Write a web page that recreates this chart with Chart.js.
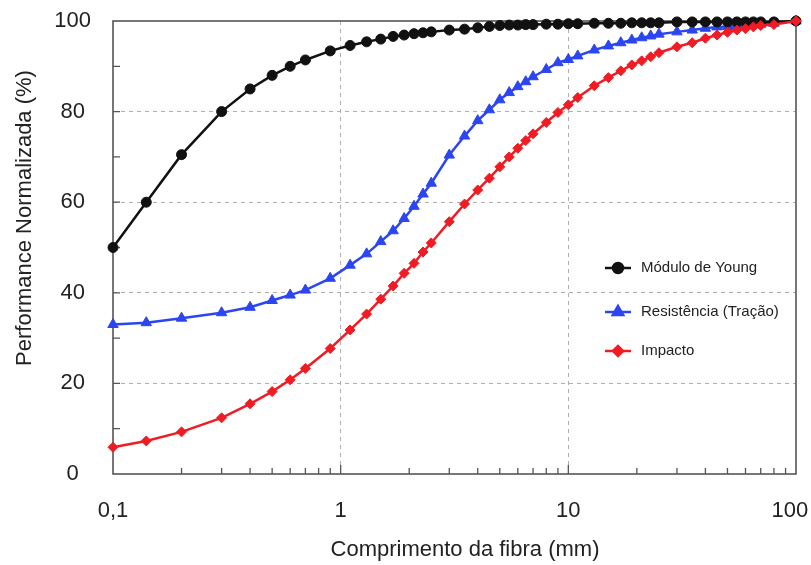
<!DOCTYPE html>
<html>
<head>
<meta charset="utf-8">
<script src="https://cdn.jsdelivr.net/npm/chart.js@4.4.0/dist/chart.umd.min.js"></script>
<style>
    body { margin: 0; background: #fff; }
    #wrap { width: 811px; height: 565px; }
</style>
</head>
<body>
<div id="wrap"><canvas id="fibraChart" width="811" height="565"></canvas></div>
<script>
// --------------------
// Data
// --------------------
const comprimento = [0.1, 0.14, 0.2, 0.3, 0.4, 0.5, 0.6, 0.7, 0.9,
    1.1, 1.3, 1.5, 1.7, 1.9, 2.1, 2.3, 2.5,
    3, 3.5, 4, 4.5, 5, 5.5, 6, 6.5, 7, 8, 9, 10,
    11, 13, 15, 17, 19, 21, 23, 25,
    30, 35, 40, 45, 50, 55, 60, 65, 70, 80, 100];

const moduloYoung = [50, 60, 70.5, 80, 85, 88, 90, 91.4, 93.4,
    94.6, 95.4, 96.0, 96.6, 96.9, 97.2, 97.4, 97.6,
    98.0, 98.2, 98.5, 98.8, 99.0, 99.1, 99.1, 99.2, 99.2, 99.3, 99.3, 99.4,
    99.4, 99.5, 99.5, 99.5, 99.6, 99.6, 99.6, 99.6,
    99.8, 99.8, 99.8, 99.8, 99.8, 99.8, 99.8, 99.8, 99.8, 99.8, 100];

const resistencia = [33, 33.4, 34.4, 35.6, 36.8, 38.3, 39.5, 40.6, 43.2,
    46.1, 48.6, 51.3, 53.7, 56.4, 59.1, 61.8, 64.2,
    70.4, 74.6, 78, 80.4, 82.6, 84.2, 85.5, 86.6, 87.7, 89.3, 90.8, 91.5,
    92.3, 93.6, 94.5, 95.2, 95.8, 96.3, 96.7, 97.1,
    97.6, 98.0, 98.4, 98.7, 98.8, 99.0, 99.2, 99.3, 99.3, 99.5, 100];

const impacto = [5.9, 7.3, 9.3, 12.4, 15.5, 18.2, 20.8, 23.3, 27.7,
    31.8, 35.3, 38.6, 41.5, 44.3, 46.5, 49, 51,
    55.7, 59.6, 62.7, 65.3, 67.8, 70, 71.9, 73.6, 75.1, 77.6, 79.8, 81.5,
    83.1, 85.7, 87.5, 89, 90.3, 91.2, 92.1, 93,
    94.3, 95.2, 96.2, 96.9, 97.5, 98, 98.3, 98.7, 99, 99.2, 100];

const xTicks = [0.1, 1, 10, 100];
const xTickLabels = ["0,1", "1", "10", "100  "];
const xMinorTicks = [0.2, 0.3, 0.4, 0.5, 0.6, 0.7, 0.8, 0.9,
    2, 3, 4, 5, 6, 7, 8, 9, 20, 30, 40, 50, 60, 70, 80, 90];
const yMinorTicks = [10, 30, 50, 70, 90];

const seriesNames = ["Módulo de Young", "Resistência (Tração)", "Impacto"];

const FONT = "'Liberation Sans', Arial, sans-serif";
const BLACK = "#111111";
const BLUE = "#2b46f0";
const RED = "#f01c24";

function toPoints(values) {
    return comprimento.map((c, i) => ({ x: c, y: values[i] }));
}

// --------------------
// Frame, inner ticks, titles and legend
// --------------------
const decorPlugin = {
    id: "decor",
    beforeDatasetsDraw(chart) {
        const { ctx, chartArea: a, scales } = chart;
        ctx.save();
        ctx.strokeStyle = "#555";
        ctx.lineWidth = 1.3;
        ctx.beginPath();
        xMinorTicks.forEach(v => {
            const px = scales.x.getPixelForValue(v);
            ctx.moveTo(px, a.bottom);
            ctx.lineTo(px, a.bottom - 6);
        });
        [1, 10].forEach(v => {
            const px = scales.x.getPixelForValue(v);
            ctx.moveTo(px, a.bottom);
            ctx.lineTo(px, a.bottom - 9);
        });
        yMinorTicks.concat([20, 40, 60, 80]).forEach(v => {
            const py = scales.y.getPixelForValue(v);
            ctx.moveTo(a.left, py);
            ctx.lineTo(a.left + 7, py);
        });
        ctx.stroke();
        ctx.lineWidth = 1.6;
        ctx.strokeRect(a.left, a.top, a.width, a.height);
        ctx.restore();
    },
    afterDraw(chart) {
        const { ctx } = chart;
        ctx.save();
        ctx.fillStyle = "#222";
        ctx.font = "22px " + FONT;
        ctx.textAlign = "center";
        ctx.textBaseline = "middle";
        ctx.fillText("Comprimento da fibra (mm)", 465, 550);

        ctx.translate(25, 218);
        ctx.rotate(-Math.PI / 2);
        ctx.fillText("Performance Normalizada (%)", 0, 0);
        ctx.restore();

        // legend
        const rows = [
            { y: 268, color: BLACK, style: "circle", r: 5 },
            { y: 312, color: BLUE, style: "triangle", r: 6 },
            { y: 351, color: RED, style: "rectRot", r: 5 }
        ];
        ctx.save();
        rows.forEach((row, i) => {
            ctx.strokeStyle = row.color;
            ctx.fillStyle = row.color;
            ctx.lineWidth = 2.5;
            ctx.beginPath();
            ctx.moveTo(605, row.y);
            ctx.lineTo(631, row.y);
            ctx.stroke();
            Chart.helpers.drawPoint(ctx, {
                pointStyle: row.style, radius: row.r, borderWidth: 1, rotation: 0
            }, 618, row.y);
            ctx.fillStyle = "#222";
            ctx.font = "15px " + FONT;
            ctx.textAlign = "left";
            ctx.textBaseline = "middle";
            ctx.fillText(seriesNames[i], 641, row.y);
        });
        ctx.restore();
    }
};

// --------------------
// Chart
// --------------------
const ctx = document.getElementById("fibraChart").getContext("2d");

new Chart(ctx, {
    type: "line",
    data: {
        datasets: [
            {
                label: seriesNames[0],
                data: toPoints(moduloYoung),
                borderColor: BLACK,
                backgroundColor: BLACK,
                pointStyle: "circle",
                pointRadius: 5,
                pointBorderWidth: 1,
                borderWidth: 2.5,
                order: 1,
                clip: false
            },
            {
                label: seriesNames[1],
                data: toPoints(resistencia),
                borderColor: BLUE,
                backgroundColor: BLUE,
                pointStyle: "triangle",
                pointRadius: 6,
                pointBorderWidth: 1,
                borderWidth: 2.5,
                order: 2,
                clip: false
            },
            {
                label: seriesNames[2],
                data: toPoints(impacto),
                borderColor: RED,
                backgroundColor: RED,
                pointStyle: "rectRot",
                pointRadius: 5,
                pointBorderWidth: 1,
                borderWidth: 2.5,
                order: 0,
                clip: false
            }
        ]
    },
    options: {
        responsive: false,
        animation: false,
        layout: { padding: { top: 21, right: 15, left: 0, bottom: 0 } },
        plugins: {
            legend: { display: false },
            tooltip: { enabled: false }
        },
        scales: {
            x: {
                type: "logarithmic",
                min: 0.1,
                max: 100,
                afterBuildTicks: scale => {
                    scale.ticks = xTicks.map(v => ({ value: v }));
                },
                afterFit: scale => {
                    scale.height = 91;
                    scale.paddingRight = 15;
                    scale.paddingLeft = 0;
                },
                ticks: {
                    padding: 24,
                    color: "#222",
                    font: { family: FONT, size: 22 },
                    maxRotation: 0,
                    autoSkip: false,
                    callback: (value, index) => xTickLabels[index]
                },
                grid: {
                    drawTicks: false,
                    lineWidth: 1,
                    color: c => (c.tick && (c.tick.value === 1 || c.tick.value === 10)) ? "#b0b0b0" : "rgba(0,0,0,0)"
                },
                border: { display: false, dash: [4, 4] }
            },
            y: {
                min: 0,
                max: 100,
                afterFit: scale => {
                    scale.width = 113;
                    scale.paddingTop = 0;
                    scale.paddingBottom = 0;
                },
                ticks: {
                    stepSize: 20,
                    padding: 22,
                    crossAlign: "center",
                    color: "#222",
                    font: { family: FONT, size: 22 }
                },
                grid: {
                    drawTicks: false,
                    lineWidth: 1,
                    color: c => (c.tick && c.tick.value > 0 && c.tick.value < 100) ? "#b0b0b0" : "rgba(0,0,0,0)"
                },
                border: { display: false, dash: [4, 4] }
            }
        }
    },
    plugins: [decorPlugin]
});
</script>
</body>
</html>
